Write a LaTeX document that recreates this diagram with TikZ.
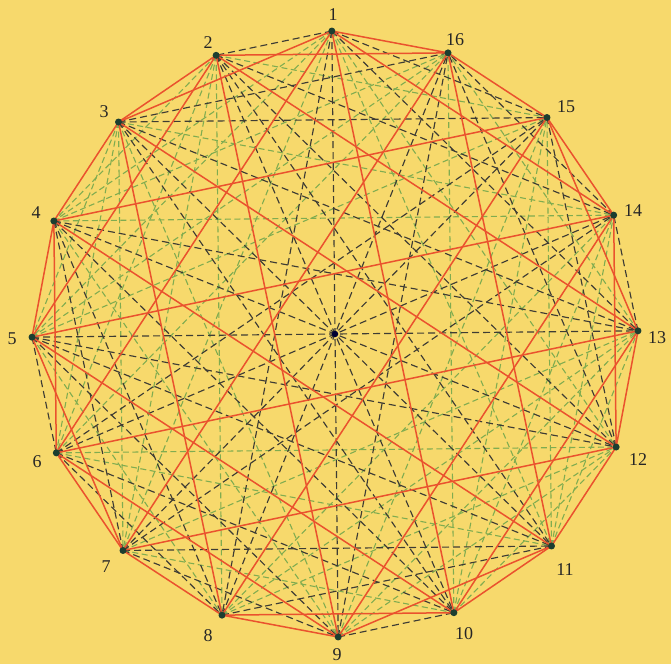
\documentclass[tikz,border=0pt]{standalone}
\usepackage{fontspec}
\setmainfont{Liberation Serif}
\definecolor{bgc}{RGB}{247,217,108}
\definecolor{redl}{RGB}{234,82,46}
\definecolor{greenl}{RGB}{128,172,80}
\definecolor{blackl}{RGB}{62,60,52}
\definecolor{dotc}{RGB}{28,62,48}
\begin{document}
\begin{tikzpicture}[x=1pt,y=-1pt,
  redline/.style={draw=redl,line width=1.5pt},
  blackline/.style={draw=blackl,line width=1.15pt,dash pattern=on 7pt off 4pt},
  greenline/.style={draw=greenl,line width=1.1pt,dash pattern=on 6pt off 3.5pt},
  vdot/.style={circle,fill=dotc,inner sep=0pt,minimum size=7pt},
  lab/.style={font=\fontsize{18}{18}\selectfont,text=black!85}]
\fill[bgc] (0,0) rectangle (671,664);
\useasboundingbox (0,0) rectangle (671,664);
\foreach \k in {1,...,16}{
  \coordinate (v\k) at ({335+303*cos(90.6+22.5*(\k-1))},{334-303*sin(90.6+22.5*(\k-1))});
}
% green class
\foreach \a/\b in {1/4,1/5,1/7,1/11,1/12,2/4,2/6,2/7,2/8,2/15,3/5,3/6,3/7,3/9,3/14,
  4/9,4/14,4/16,5/8,5/15,5/16,6/11,6/12,6/16,7/10,7/13,8/12,8/13,8/14,
  9/12,9/13,9/15,10/12,10/14,10/15,10/16,11/13,11/14,11/15,13/16}
  \draw[greenline] (v\a) -- (v\b);
% black class
\foreach \a/\b in {1/2,1/8,1/9,1/13,1/15,2/10,2/11,2/12,2/14,3/10,3/11,3/13,3/15,3/16,
  4/7,4/8,4/10,4/12,4/13,5/6,5/9,5/11,5/12,5/13,6/8,6/10,6/14,6/15,
  7/9,7/11,7/14,7/15,8/11,8/16,9/10,9/16,12/15,12/16,13/14,14/16}
  \draw[blackline] (v\a) -- (v\b);
% red class
\foreach \a/\b in {1/3,1/6,1/10,1/14,1/16,2/3,2/5,2/9,2/13,2/16,3/4,3/8,3/12,
  4/5,4/6,4/11,4/15,5/7,5/10,5/14,6/7,6/9,6/13,7/8,7/12,7/16,8/9,8/10,8/15,
  9/11,9/14,10/11,10/13,11/12,11/16,12/13,12/14,13/15,14/15,15/16}
  \draw[redline] (v\a) -- (v\b);
\foreach \k in {1,...,16}{
  \node[vdot] (d\k) at (v\k) {};
}
\node[vdot,minimum size=6.5pt,fill=black!80!blue] (ctr) at (335,334) {};
% labels
\node[lab] (l1) at (333,15) {1};
\node[lab] (l2) at (208,43) {2};
\node[lab] (l3) at (104,112) {3};
\node[lab] (l4) at (36,213) {4};
\node[lab] (l5) at (12,339) {5};
\node[lab] (l6) at (37,462) {6};
\node[lab] (l7) at (106,567) {7};
\node[lab] (l8) at (208,636) {8};
\node[lab] (l9) at (337,655) {9};
\node[lab] (l10) at (464,634) {10};
\node[lab] (l11) at (565,570) {11};
\node[lab] (l12) at (638,460) {12};
\node[lab] (l13) at (657,338) {13};
\node[lab] (l14) at (633,211) {14};
\node[lab] (l15) at (566,107) {15};
\node[lab] (l16) at (455,40) {16};
\end{tikzpicture}
\end{document}
